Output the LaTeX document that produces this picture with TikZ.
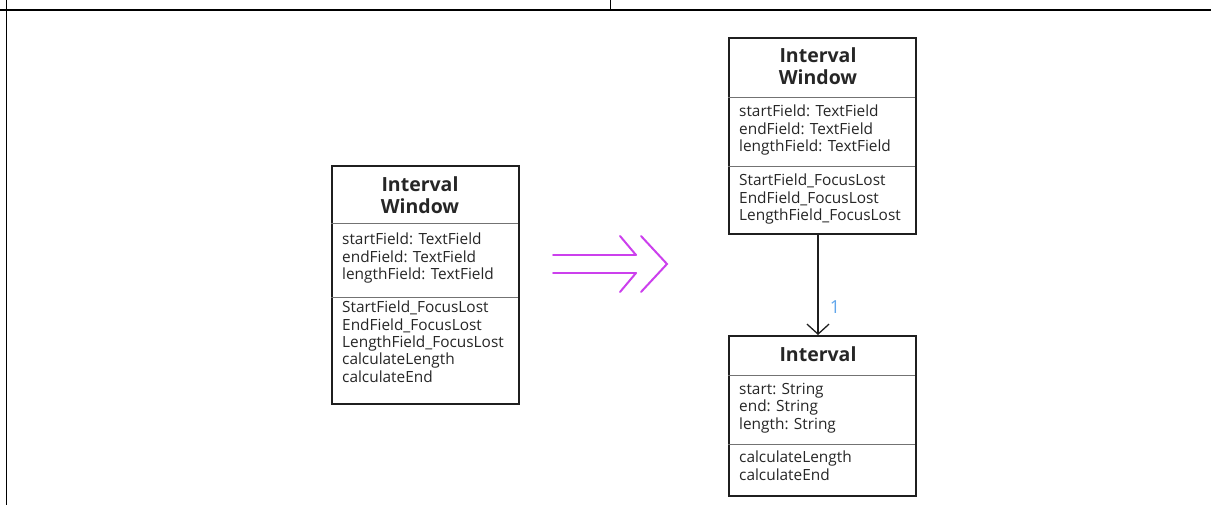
\documentclass[tikz,border=0pt]{standalone}
\usepackage{fontspec}
\setmainfont{Open Sans}
\usetikzlibrary{arrows.meta}
\definecolor{umlline}{rgb}{0.12,0.12,0.12}
\definecolor{seprule}{rgb}{0.45,0.45,0.45}
\definecolor{refine}{rgb}{0.80,0.25,0.93}
\definecolor{multi}{rgb}{0.38,0.65,0.92}
\tikzset{
  x=1pt, y=-1pt,
  umlbox/.style={draw=umlline, line width=1.6pt, rectangle, inner sep=0pt, anchor=north west},
  sepline/.style={draw=seprule, line width=0.9pt},
  umltitle/.style={font=\fontsize{19.5}{22}\selectfont\bfseries, align=center, inner sep=0pt, text=black!85},
  members/.style={font=\fontsize{15.4}{17.3}\selectfont, align=left, anchor=north west, inner sep=0pt, text=black!85},
  tableline/.style={draw=black, line width=1pt},
  assoc/.style={draw=umlline, line width=1.3pt, -{Straight Barb[length=10pt,width=22pt,line width=1.3pt]}},
  refarrow/.style={draw=refine, line width=2pt, line cap=round, line join=miter}
}
\begin{document}
\begin{tikzpicture}
\useasboundingbox (0,0) rectangle (1211,505);

% table frame
\draw[tableline, line width=2pt] (0,10) -- (1211,10);
\draw[tableline] (6,0) -- (6,505);
\draw[tableline] (610,0) -- (610,10);

% ---- IntervalWindow (before) ----
\node[umlbox, minimum width=187, minimum height=238] (iwa) at (331,165) {};
\draw[sepline] (331,223) -- (518,223);
\draw[sepline] (331,297) -- (518,297);
\node[umltitle] (iwaT) at (420,195) {Interval\\Window};
\node[members] (iwaA) at (342,233) {startField: TextField\\endField: TextField\\lengthField: TextField};
\node[members] (iwaM) at (342,301) {StartField\_FocusLost\\EndField\_FocusLost\\LengthField\_FocusLost\\calculateLength\\calculateEnd};

% ---- refinement arrow ----
\coordinate (ra1) at (553,255);
\coordinate (ra2) at (553,273);
\coordinate (ra3) at (636,255);
\coordinate (ra4) at (636,273);
\draw[refarrow] (ra1) -- (ra3);
\draw[refarrow] (ra2) -- (ra4);
\draw[refarrow] (620,236) -- (ra3);
\draw[refarrow] (620,292) -- (ra4);
\draw[refarrow] (641,236) -- (667,264) -- (641,292);

% ---- IntervalWindow (after) ----
\node[umlbox, minimum width=187, minimum height=196] (iwb) at (728,37) {};
\draw[sepline] (728,97) -- (915,97);
\draw[sepline] (728,166) -- (915,166);
\node[umltitle] (iwbT) at (818,66) {Interval\\Window};
\node[members] (iwbA) at (739,105) {startField: TextField\\endField: TextField\\lengthField: TextField};
\node[members] (iwbM) at (739,174) {StartField\_FocusLost\\EndField\_FocusLost\\LengthField\_FocusLost};

% ---- Interval ----
\node[umlbox, minimum width=187, minimum height=160] (iv) at (728,335) {};
\draw[sepline] (728,375) -- (915,375);
\draw[sepline] (728,444) -- (915,444);
\node[umltitle] (ivT) at (818,354) {Interval};
\node[members] (ivA) at (739,383) {start: String\\end: String\\length: String};
\node[members] (ivM) at (739,451) {calculateLength\\calculateEnd};

% association
\coordinate (assocTop) at (818,233);
\coordinate (assocEnd) at (818,335);
\draw[assoc] (assocTop) -- (assocEnd);
\node[text=multi, font=\fontsize{18}{20}\selectfont, inner sep=0pt] (mult) at (835,307) {1};
\end{tikzpicture}
\end{document}
